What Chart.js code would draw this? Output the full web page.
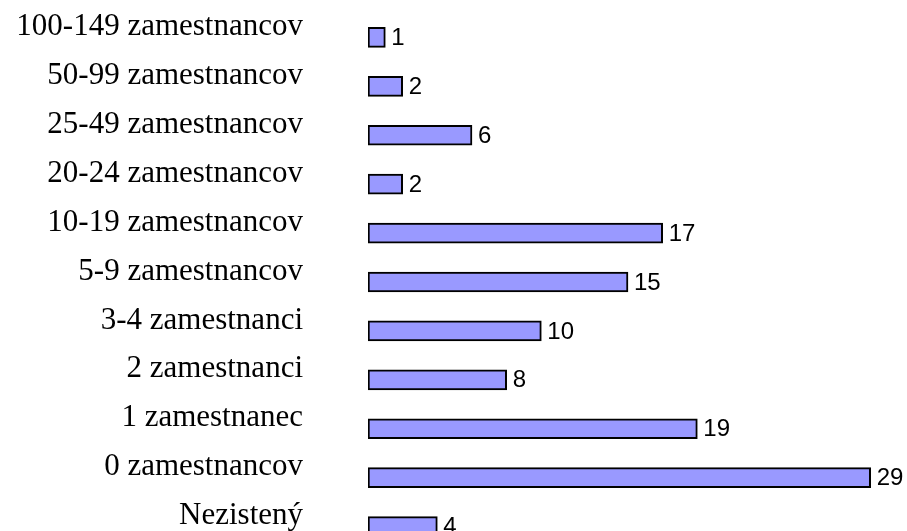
<!DOCTYPE html>
<html>
<head>
<meta charset="utf-8">
<script src="https://cdn.jsdelivr.net/npm/chart.js@4"></script>
<style>
  html, body { margin: 0; padding: 0; background: #fff; overflow: hidden; }
  #wrap { position: relative; width: 907px; height: 560px; }
</style>
</head>
<body>
<div id="wrap"><canvas id="sizeChart"></canvas></div>
<script>
const categories = [
  "100-149 zamestnancov",
  "50-99 zamestnancov",
  "25-49 zamestnancov",
  "20-24 zamestnancov",
  "10-19 zamestnancov",
  "5-9 zamestnancov",
  "3-4 zamestnanci",
  "2 zamestnanci",
  "1 zamestnanec",
  "0 zamestnancov",
  "Nezistený"
];
const counts = [1, 2, 6, 2, 17, 15, 10, 8, 19, 29, 4];

// draws the number next to each bar end
const valueLabels = {
  id: "valueLabels",
  afterDatasetsDraw(chart) {
    const ctx = chart.ctx;
    const meta = chart.getDatasetMeta(0);
    ctx.save();
    ctx.font = "24px 'Liberation Sans', Arial, sans-serif";
    ctx.fillStyle = "#000";
    ctx.textAlign = "left";
    ctx.textBaseline = "middle";
    meta.data.forEach((bar, i) => {
      ctx.fillText(String(counts[i]), bar.x + 6, bar.y + 1);
    });
    ctx.restore();
  }
};

const ctx = document.getElementById("sizeChart").getContext("2d");
new Chart(ctx, {
  type: "bar",
  data: {
    labels: categories,
    datasets: [{
      data: counts,
      backgroundColor: "#9999ff",
      borderColor: "#000",
      borderWidth: 2,
      borderSkipped: false,
      barThickness: 20
    }]
  },
  options: {
    indexAxis: "y",
    responsive: true,
    maintainAspectRatio: false,
    animation: false,
    layout: { padding: { top: 13, bottom: 9, left: 0, right: 19 } },
    plugins: {
      legend: { display: false },
      tooltip: { enabled: false }
    },
    scales: {
      x: {
        display: false,
        min: 0,
        max: 30
      },
      y: {
        grid: { display: false, drawTicks: false },
        border: { display: false },
        afterFit(scale) {
          scale.width = 368;
          // tick padding would otherwise be added above and below the axis
          scale.paddingTop = 0;
          scale.paddingBottom = 0;
        },
        ticks: {
          color: "#000",
          padding: 65,
          labelOffset: -10.5,
          font: { family: "'Liberation Serif', 'Times New Roman', serif", size: 31 }
        }
      }
    }
  },
  plugins: [valueLabels]
});
</script>
</body>
</html>
